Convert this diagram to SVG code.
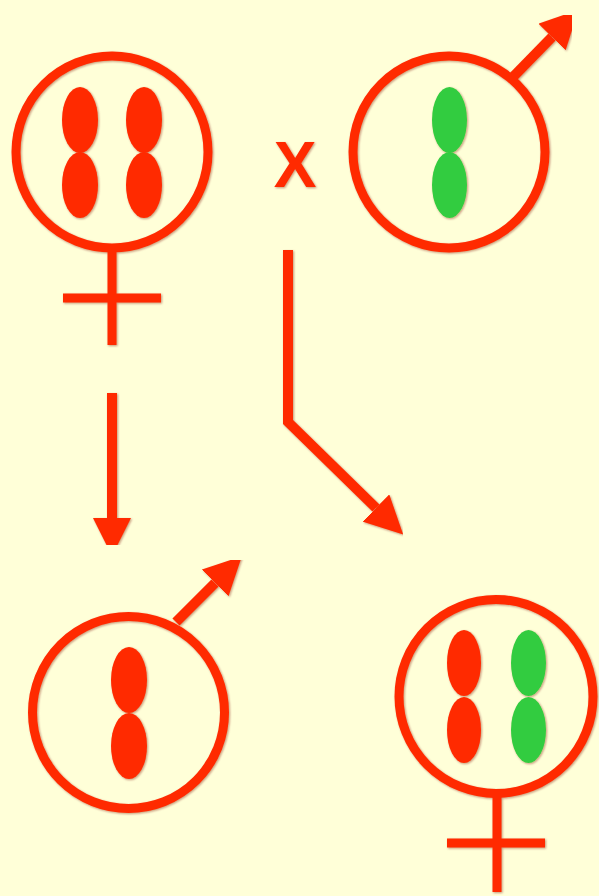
<svg xmlns="http://www.w3.org/2000/svg" width="599" height="896" viewBox="0 0 599 896">
  <style>
    .ring { fill: none; stroke: #ff2a00; stroke-width: 9; }
    .bar { stroke: #ff2a00; stroke-width: 9; fill: none; }
    .link { stroke: #ff2a00; stroke-width: 10; fill: none; stroke-linejoin: miter; }
    .red { fill: #ff2a00; }
    .green { fill: #33cc3f; }
    .sign { fill: #ff2a00; font-family: "Liberation Sans", Arial, sans-serif; font-weight: bold; font-size: 64px; }
    .fx { filter: url(#soft); }
  </style>
  <defs>
    <filter id="soft" x="-10%" y="-10%" width="120%" height="120%">
      <feDropShadow dx="1" dy="1" stdDeviation="0.8" flood-color="#7a1400" flood-opacity="0.45"/>
    </filter>
    <marker id="head" viewBox="0 0 38 38" refX="0" refY="19" markerWidth="38" markerHeight="38" markerUnits="userSpaceOnUse" orient="auto">
      <path d="M0,0 L38,19 L0,38 Z" fill="#ff2a00"/>
    </marker>
  </defs>

  <rect x="0" y="0" width="599" height="896" fill="#ffffd8"/>

  <!-- mother: female symbol, two red chromosomes -->
  <g id="mother" class="fx">
    <circle class="ring" cx="112" cy="152" r="96"/>
    <line class="bar" x1="112" y1="252" x2="112" y2="345"/>
    <line class="bar" x1="63" y1="298" x2="161" y2="298"/>
    <ellipse class="red" cx="80" cy="120" rx="18" ry="33"/>
    <ellipse class="red" cx="80" cy="185" rx="18" ry="33"/>
    <ellipse class="red" cx="144" cy="120" rx="18" ry="33"/>
    <ellipse class="red" cx="144" cy="185" rx="18" ry="33"/>
  </g>

  <!-- cross sign -->
  <g id="cross" class="fx">
    <text class="sign" x="295" y="187" text-anchor="middle">X</text>
  </g>

  <!-- father: male symbol, one green chromosome -->
  <g id="father" class="fx">
    <circle class="ring" cx="449" cy="152" r="96"/>
    <line class="link" x1="512" y1="78" x2="552" y2="37" marker-end="url(#head)"/>
    <ellipse class="green" cx="449.5" cy="120" rx="17.5" ry="33"/>
    <ellipse class="green" cx="449.5" cy="185" rx="17.5" ry="33"/>
  </g>

  <!-- son: male symbol, one red chromosome -->
  <g id="son" class="fx">
    <circle class="ring" cx="128.5" cy="712.5" r="96"/>
    <line class="link" x1="176" y1="622" x2="215" y2="583" marker-end="url(#head)"/>
    <ellipse class="red" cx="129" cy="680" rx="18" ry="33"/>
    <ellipse class="red" cx="129" cy="746" rx="18" ry="33"/>
  </g>

  <!-- daughter: female symbol, one red and one green chromosome -->
  <g id="daughter" class="fx">
    <circle class="ring" cx="496" cy="696.5" r="97"/>
    <line class="bar" x1="497" y1="797" x2="497" y2="892"/>
    <line class="bar" x1="447" y1="843" x2="545" y2="843"/>
    <ellipse class="red" cx="464" cy="663" rx="17" ry="33"/>
    <ellipse class="red" cx="464" cy="730" rx="17" ry="33"/>
    <ellipse class="green" cx="528.5" cy="663" rx="17.5" ry="33"/>
    <ellipse class="green" cx="528.5" cy="730" rx="17.5" ry="33"/>
  </g>

  <!-- inheritance arrows -->
  <g id="connectors" class="fx">
    <line class="link" x1="112" y1="393" x2="112" y2="518" marker-end="url(#head)"/>
    <path class="link" d="M288,250 V422 L376,508" marker-end="url(#head)"/>
  </g>
</svg>
